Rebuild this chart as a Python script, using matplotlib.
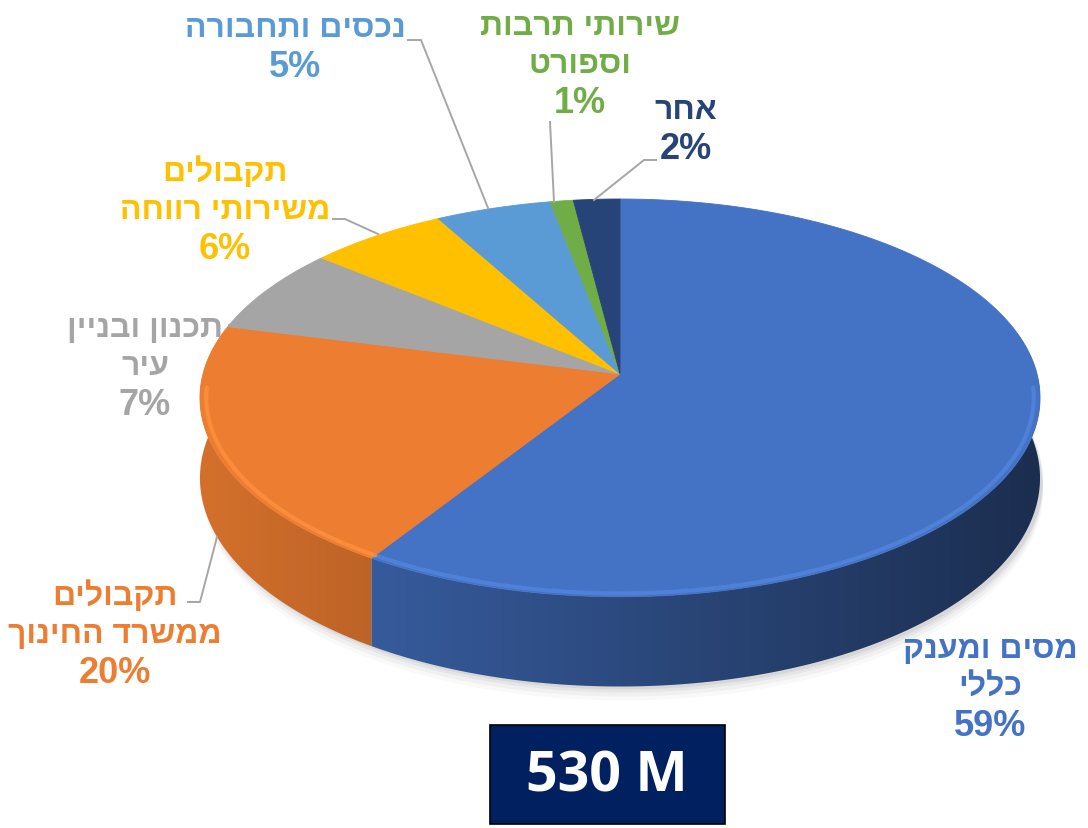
import numpy as np
import matplotlib.pyplot as plt
from matplotlib.patches import Polygon, Rectangle
from matplotlib.colors import to_rgb

# data (Hebrew in logical order)
names = ["מסים ומענק\nכללי", "תקבולים\nממשרד החינוך", "תכנון ובניין\nעיר",
         "תקבולים\nמשירותי רווחה", "נכסים ותחבורה", "שירותי תרבות\nוספורט", "אחר"]
values = [59, 20, 7, 6, 5, 1, 2]
colors = ["#4472c4", "#ed7d31", "#a5a5a5", "#ffc000", "#5b9bd5", "#70ad47", "#264478"]
total_label = "530 M"

# layout in pixel space (perspective projected disc)
W, H = 1088, 829
cx, cy = 620, 375          # pie apex
a, b, k = 417, 196, 0.12   # half width, half height, perspective factor
depth = 79
pitch = 38.5
label_pos = [(990, 688), (115, 635), (145, 367), (225, 211), (295, 48), (580, 65), (686, 130)]
leaders = [None, [(188, 603), (200, 603), (217, 538)], [(229, 326), (240, 322)],
           [(333, 220), (345, 220), (378, 235)], [(408, 41), (421, 41), (488, 209)],
           [(550, 123), (554, 203)], [(656, 161), (644, 161), (594, 201)]]

plt.rcParams['font.family'] = ['Liberation Sans', 'DejaVu Sans']

fig = plt.figure(figsize=(W / 100, H / 100), dpi=100)
ax = fig.add_axes([0, 0, 1, 1])
ax.set_xlim(0, W)
ax.set_ylim(H, 0)
ax.axis('off')


def pt(theta, lower=False):
    t = np.radians(theta)
    u, v = np.cos(t), np.sin(t)
    w = 1 + k * v
    y = cy - b * v / w
    if lower:
        y += depth / w
    return cx + a * u / w, y


def rtl(s):
    return s[::-1]


# soft shadow under the pie
ring = np.linspace(0, 360, 361)
base = np.array([pt(t, True) for t in ring])
for dy, al in zip([14, 10, 6, 3], [0.025, 0.035, 0.045, 0.06]):
    ax.add_patch(Polygon(base + [3, dy], closed=True, facecolor='black', alpha=al,
                         edgecolor='none', zorder=1))

# slice angles: start at top, clockwise
fracs = np.array(values) / sum(values)
ends = 90 - 360 * np.cumsum(fracs)
starts = np.concatenate([[90], ends[:-1]])


def front_ranges(s, e, lo=-192, hi=12):
    out = []
    for shift in (0, -360, 360):
        a0 = max(e + shift, lo)
        a1 = min(s + shift, hi)
        if a1 > a0:
            out.append((a0, a1))
    return out


# side walls with horizontal shading
grad_x = np.linspace(cx - a - 10, cx + a + 10, 400)
shade = 0.9 - 0.5 * (grad_x - grad_x[0]) / (grad_x[-1] - grad_x[0])
for s, e, c in zip(starts, ends, colors):
    for a0, a1 in front_ranges(s, e):
        th = np.linspace(a0, a1, 150)
        top = [pt(t) for t in th]
        bot = [pt(t, True) for t in th[::-1]]
        poly = Polygon(top + bot, closed=True, facecolor='none', edgecolor='none', zorder=2)
        ax.add_patch(poly)
        rgb = np.array(to_rgb(c))
        img = (shade[None, :, None] * rgb[None, None, :]).repeat(2, axis=0)
        im = ax.imshow(np.clip(img, 0, 1), extent=(grad_x[0], grad_x[-1], 720, 150),
                       aspect='auto', zorder=2, interpolation='bilinear')
        im.set_clip_path(poly)

# top faces
for s, e, c in zip(starts, ends, colors):
    th = np.linspace(s, e, max(int(abs(s - e)) * 2, 10))
    verts = [(cx, cy)] + [pt(t) for t in th]
    ax.add_patch(Polygon(verts, closed=True, facecolor=c, edgecolor=c, linewidth=0.6, zorder=3))
    # bevel highlight along the front rim
    light = tuple(np.clip(np.array(to_rgb(c)) * 1.1 + 0.04, 0, 1))
    for a0, a1 in front_ranges(s, e, -176, -4):
        rim = np.array([pt(t) for t in np.linspace(a0, a1, 120)])
        rim = np.array([cx, cy]) + 0.985 * (rim - [cx, cy])
        ax.plot(rim[:, 0], rim[:, 1], color=light, lw=3, alpha=0.7, zorder=4,
                solid_capstyle='round')

# labels (one text per line) and leader lines
for name, v, c, (x, y), ld in zip(names, values, colors, label_pos, leaders):
    lines = [rtl(n) for n in name.split("\n")] + [f"{v}%"]
    y0 = y - pitch * (len(lines) - 1) / 2
    for i, line in enumerate(lines):
        is_pct = i == len(lines) - 1
        ax.text(x, y0 + i * pitch, line, color=c, fontsize=26 if is_pct else 23,
                fontweight='bold', ha='center', va='center', zorder=6)
    if ld:
        xs, ys = zip(*ld)
        ax.plot(xs, ys, color='#a6a6a6', lw=1.4, zorder=5)

# total box
ax.add_patch(Rectangle((490, 726), 235, 99, facecolor='#002060', edgecolor='black',
                       linewidth=1.2, zorder=6))
ax.text(607, 777, total_label, color='white', fontsize=40, fontweight='bold',
        family=['Open Sans', 'DejaVu Sans'], ha='center', va='center', zorder=7)

fig.savefig('out.png', dpi=100)
